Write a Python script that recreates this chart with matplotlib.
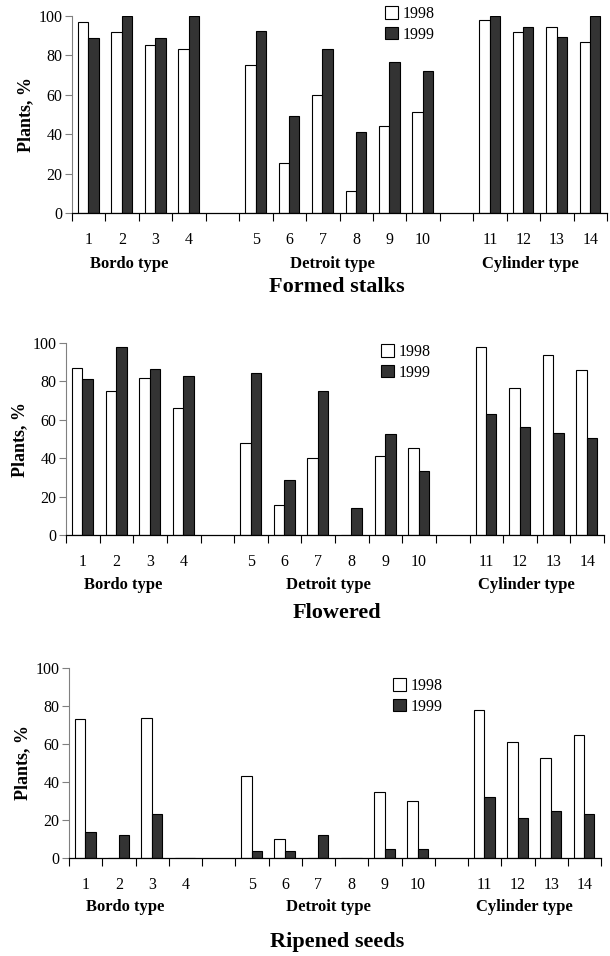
import matplotlib.pyplot as plt
from matplotlib.patches import Patch
import numpy as np

plt.rcParams['font.family'] = ['Liberation Serif', 'DejaVu Serif']

labels = ['1', '2', '3', '4', '', '5', '6', '7', '8', '9', '10', '', '11', '12', '13', '14']
groups = ('Bordo type', 'Detroit type', 'Cylinder type')
titles = ('Formed stalks', 'Flowered', 'Ripened seeds')

# values per variety 1..14 (gaps are added at plot time)
stalks_1998 = [97, 92, 85.5, 83.5, 75, 25.5, 60, 11, 44, 51.5, 98, 92, 94.5, 87]
stalks_1999 = [89, 100, 89, 100, 92.5, 49, 83.5, 41, 76.5, 72, 100, 94.5, 89.5, 100]
flower_1998 = [87, 75, 82, 66, 48, 15.5, 40, 0, 41, 45.5, 98, 76.5, 93.5, 86]
flower_1999 = [81, 98, 86.5, 83, 84.5, 28.5, 75, 14, 52.5, 33.5, 63, 56.5, 53, 50.5]
seeds_1998 = [73, 0, 73.5, 0, 43, 10, 0, 0, 34.5, 30, 78, 61, 52.5, 65]
seeds_1999 = [13.5, 12, 23, 0, 3.5, 3.5, 12, 0, 5, 5, 32, 21, 25, 23]

data = [(stalks_1998, stalks_1999), (flower_1998, flower_1999), (seeds_1998, seeds_1999)]

W, H = 610, 956
# axes boxes in pixels: left, right, y of 100, y of 0
boxes = [(72, 607, 16, 213), (66, 604, 343, 535), (69, 601, 668, 858)]
title_y = [287, 613, 942]
leg_pos = [(385, 6), (381, 344), (393, 678)]

# slot positions of the 14 varieties (slots 4 and 11 left empty)
slots = np.array([0, 1, 2, 3, 5, 6, 7, 8, 9, 10, 12, 13, 14, 15])
bw = 0.31

fig = plt.figure(figsize=(W / 100, H / 100), dpi=100)

for i in range(3):
    l, r, t, b = boxes[i]
    ax = fig.add_axes([l / W, 1 - b / H, (r - l) / W, (b - t) / H])
    v98, v99 = data[i]
    ax.bar(slots - 0.165, v98, bw, color='white', edgecolor='black', linewidth=0.8)
    ax.bar(slots + 0.145, v99, bw, color='#333333', edgecolor='black', linewidth=0.8)

    ax.set_xlim(-0.5, 15.5)
    ax.set_ylim(0, 100)
    ax.set_yticks([0, 20, 40, 60, 80, 100])
    ax.set_xticks(np.arange(16))
    ax.set_xticklabels(labels)
    ax.set_xticks(np.arange(-0.5, 16, 1), minor=True)
    ax.tick_params(axis='x', which='major', length=0, pad=14, labelsize=11.5)
    ax.tick_params(axis='x', which='minor', length=6, width=0.8, direction='out')
    ax.tick_params(axis='y', length=5, width=0.8, labelsize=11.5, pad=2, color='#808080')
    for s in ('top', 'right'):
        ax.spines[s].set_visible(False)
    ax.spines['left'].set_color('#808080')
    ax.spines['bottom'].set_linewidth(0.9)

    ax.set_ylabel('Plants, %', fontsize=13, fontweight='bold', labelpad=3)

    for gx, g in zip((1.2, 7.3, 13.2), groups):
        ax.text(gx, -26, g, ha='center', va='center', fontsize=12, fontweight='bold')

    fig.text(337 / W, 1 - title_y[i] / H, titles[i], ha='center', va='center',
             fontsize=16, fontweight='bold')

    handles = [Patch(facecolor='white', edgecolor='black', linewidth=0.8),
               Patch(facecolor='#333333', edgecolor='black', linewidth=0.8)]
    lx, ly = leg_pos[i]
    fig.legend(handles, ['1998', '1999'], loc='upper left',
               bbox_to_anchor=(lx / W, 1 - ly / H), frameon=False, fontsize=11.5,
               handlelength=0.8, handleheight=0.8, handletextpad=0.3,
               labelspacing=0.3, borderpad=0, borderaxespad=0)

fig.savefig('out.png', dpi=100)
